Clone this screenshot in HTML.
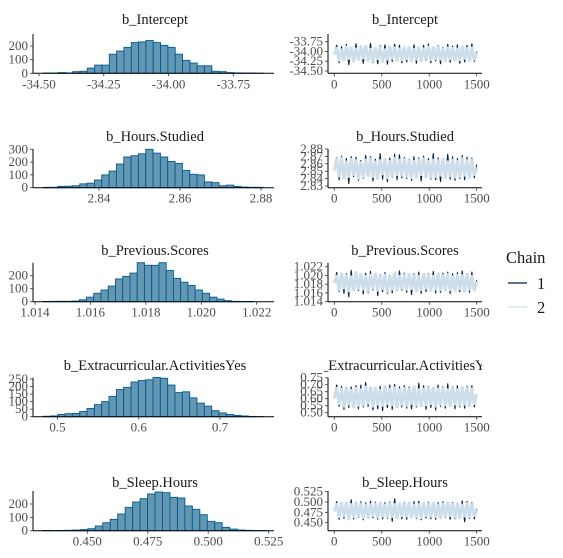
<!DOCTYPE html>
<html><head><meta charset="utf-8"><style>
html,body{margin:0;padding:0;background:#fff}
svg{display:block}
text{font-family:"Liberation Serif",serif}
</style></head><body>
<svg id="c" width="563" height="558" xmlns="http://www.w3.org/2000/svg" font-family="Liberation Serif, serif"></svg>
<script>
const params = ["b_Intercept","b_Hours.Studied","b_Previous.Scores","b_Extracurricular.ActivitiesYes","b_Sleep.Hours"];
const histCounts1 = [2,2,5,3,12,15,38,60,60,140,163,190,225,230,240,225,205,190,140,95,75,55,55,15,12,5,3,2,2,1];
const histCounts2 = [3,3,10,12,15,30,35,60,100,130,185,240,250,265,300,270,240,205,190,135,105,100,45,40,15,20,10,5,3,3];
const histCounts3 = [2,3,3,3,5,15,35,65,90,120,175,195,220,300,280,280,300,240,180,150,125,90,65,35,20,8,3,2,2];
const histCounts4 = [3,5,15,20,22,35,55,80,100,135,180,195,230,240,245,260,255,210,160,165,125,90,70,40,25,15,8,5,2,1];
const histCounts5 = [2,1,2,3,5,8,15,35,60,85,125,175,215,240,275,290,285,250,245,185,160,120,70,60,25,12,5,3,1,1];
const histCounts = [histCounts1,histCounts2,histCounts3,histCounts4,histCounts5];
const binStart = [-34.483,2.8262,1.01429,0.4822,0.4317];
const binEnd = [-33.635,2.8805,1.02187,0.7529,0.5243];
const histXTicks = [[-34.50,-34.25,-34.00,-33.75],[2.84,2.86,2.88],[1.014,1.016,1.018,1.020,1.022],[0.5,0.6,0.7],[0.450,0.475,0.500,0.525]];
const histXLabels = [["-34.50","-34.25","-34.00","-33.75"],["2.84","2.86","2.88"],["1.014","1.016","1.018","1.020","1.022"],["0.5","0.6","0.7"],["0.450","0.475","0.500","0.525"]];
const histYTicks = [[0,100,200],[0,100,200,300],[0,100,200],[0,50,100,150,200,250],[0,100,200]];
const traceYTicks = [[-33.75,-34.00,-34.25,-34.50],[2.88,2.87,2.86,2.85,2.84,2.83],[1.022,1.020,1.018,1.016,1.014],[0.75,0.70,0.65,0.60,0.55,0.50],[0.525,0.500,0.475,0.450]];
const traceYLabels = [["-33.75","-34.00","-34.25","-34.50"],["2.88","2.87","2.86","2.85","2.84","2.83"],["1.022","1.020","1.018","1.016","1.014"],["0.75","0.70","0.65","0.60","0.55","0.50"],["0.525","0.500","0.475","0.450"]];
const traceXTicks = [0,500,1000,1500];
const traceMean = [-34.06,2.854,1.0184,0.615,0.480];
const traceSd = [0.12,0.0085,0.0013,0.045,0.012];
const chain1_1 = [0.4,1.9,-2.0,1.6,-1.3,2.1,-2.4,1.2,-1.8,2.2,-1.1,1.7,-2.1,1.4,-1.6,2.3,-1.9,1.0,-2.2,1.8,-1.4,2.0,-2.3,1.5,-1.7,2.1,-1.2,1.9,-2.0,1.5,-1.8,1.6,-1.5,2.0,-2.1,1.3,-1.7,1.9,-1.4,2.2,-2.0,1.5,-1.6,1.8,-2.2,1.4,-1.5,2.1,-1.9,1.7,-1.3,2.0,-2.1,1.6,-1.8,1.9,-1.5,2.2,-1.7,0.5];
const chain2_1 = [-0.2,1.4,-1.6,1.1,-1.5,1.7,-1.2,1.5,-1.8,1.3,-1.4,1.6,-1.1,1.8,-1.5,1.2,-1.7,1.4,-1.3,1.6,-1.9,1.1,-1.4,1.7,-1.2,1.5,-1.6,1.3,-1.5,1.4,-1.3,1.6,-1.7,1.2,-1.4,1.5,-1.6,1.3,-1.2,1.7,-1.5,1.4,-1.3,1.6,-1.4,1.2,-1.7,1.5,-1.3,1.4,-1.6,1.3,-1.5,1.7,-1.2,1.4,-1.6,1.5,-1.4,0.3];
const chain1_2 = [0.2,1.7,-1.9,2.0,-1.5,1.6,-2.5,1.9,-1.4,1.8,-2.0,1.3,-1.7,2.1,-1.2,1.9,-2.1,1.5,-1.6,2.4,-1.8,1.4,-2.2,1.7,-1.5,2.3,-1.9,2.2,-1.6,1.8,-1.7,1.5,-2.0,1.9,-1.6,1.7,-2.1,2.0,-1.5,1.6,-1.8,2.4,-1.9,1.7,-2.2,1.5,-1.6,2.3,-1.8,1.9,-2.0,1.6,-1.7,2.1,-1.9,1.8,-1.5,1.7,-1.6,0.6];
const chain2_2 = [-0.4,1.6,-1.4,1.8,-1.7,1.2,-1.5,1.6,-1.2,1.4,-1.8,1.1,-1.6,1.5,-1.3,1.7,-1.5,1.2,-1.8,1.4,-1.1,1.6,-1.7,1.3,-1.4,1.8,-1.2,1.5,-1.3,1.6,-1.5,1.4,-1.7,1.3,-1.6,1.5,-1.2,1.7,-1.4,1.3,-1.6,1.5,-1.5,1.4,-1.3,1.6,-1.7,1.2,-1.4,1.5,-1.6,1.3,-1.5,1.7,-1.3,1.4,-1.6,1.5,-1.2,0.1];
const chain1_3 = [0.3,1.8,-1.7,1.5,-2.0,1.6,-2.6,2.2,-1.3,1.9,-1.5,1.4,-2.1,1.7,-1.9,2.0,-1.4,1.6,-2.4,1.5,-1.7,1.8,-2.0,1.3,-1.9,1.6,-1.5,2.1,-1.4,1.7,-1.8,1.5,-2.2,1.6,-1.5,1.9,-2.0,1.4,-1.7,1.6,-1.6,2.0,-1.9,1.5,-1.8,1.7,-1.4,1.9,-2.0,1.6,-1.5,1.8,-1.7,2.1,-1.6,1.5,-1.8,1.9,-1.4,0.4];
const chain2_3 = [-0.1,1.3,-1.5,1.7,-1.2,1.4,-1.7,1.2,-1.5,1.8,-1.3,1.6,-1.4,1.3,-1.7,1.5,-1.2,1.7,-1.6,1.4,-1.3,1.5,-1.8,1.2,-1.4,1.9,-1.6,1.3,-1.2,1.5,-1.4,1.6,-1.3,1.4,-1.7,1.3,-1.5,1.6,-1.2,1.5,-1.6,1.3,-1.4,1.7,-1.5,1.4,-1.3,1.6,-1.5,1.2,-1.6,1.5,-1.3,1.4,-1.7,1.6,-1.4,1.3,-1.5,0.2];
const chain1_4 = [0.1,1.9,-1.6,1.7,-2.1,1.4,-1.8,1.6,-1.5,1.8,-2.0,1.9,-1.7,2.3,-1.6,1.5,-2.2,1.3,-2.0,1.7,-2.3,1.6,-1.8,1.9,-2.1,2.0,-1.5,1.6,-1.7,1.8,-1.9,1.6,-2.0,1.5,-1.7,2.2,-1.6,1.8,-2.1,1.7,-1.8,1.5,-2.2,1.9,-1.6,1.7,-1.9,2.1,-1.5,1.6,-2.0,1.8,-1.7,1.6,-1.9,1.7,-1.6,1.8,-1.7,0.2];
const chain2_4 = [-0.3,1.5,-1.3,1.4,-1.7,1.6,-1.4,1.2,-1.8,1.5,-1.6,1.3,-1.5,1.7,-1.2,1.6,-1.7,1.5,-1.4,1.2,-1.6,1.8,-1.3,1.4,-1.5,1.6,-1.8,1.3,-1.4,1.5,-1.6,1.4,-1.3,1.7,-1.5,1.3,-1.6,1.4,-1.5,1.6,-1.3,1.5,-1.7,1.4,-1.4,1.6,-1.5,1.3,-1.6,1.7,-1.4,1.3,-1.5,1.6,-1.4,1.5,-1.6,1.4,-1.3,0.4];
const chain1_5 = [0.0,1.8,-1.9,1.5,-1.7,1.6,-1.6,2.2,-1.8,1.7,-1.5,1.8,-2.0,1.6,-1.7,1.9,-1.6,1.7,-1.9,1.5,-1.8,1.6,-1.7,1.8,-2.3,2.4,-1.6,1.5,-1.8,1.7,-1.9,1.6,-1.5,1.8,-1.7,1.9,-2.0,1.6,-1.6,1.7,-1.8,1.5,-1.9,1.6,-1.7,1.8,-1.5,1.7,-1.9,1.6,-1.8,1.5,-1.6,2.0,-2.4,1.9,-1.7,1.6,-1.8,0.3];
const chain2_5 = [-0.2,1.4,-1.5,1.6,-1.3,1.7,-2.0,1.4,-1.5,1.6,-1.4,1.5,-1.7,1.3,-1.6,1.4,-1.3,1.5,-1.6,1.7,-1.4,1.3,-1.5,1.6,-1.5,1.4,-1.7,1.5,-1.3,1.6,-1.4,1.5,-1.6,1.3,-1.5,1.4,-1.7,1.6,-1.3,1.5,-1.4,1.6,-1.5,1.3,-1.6,1.5,-1.4,1.7,-1.3,1.4,-1.6,1.5,-1.5,1.3,-1.4,1.6,-1.5,1.4,-1.3,0.1];
const chain1 = [chain1_1,chain1_2,chain1_3,chain1_4,chain1_5];
const chain2 = [chain2_1,chain2_2,chain2_3,chain2_4,chain2_5];

const axisY = [73.3,187.7,301.7,416.7,530.7];
const topY = [34,149,262.7,377.7,491];
const histXCal = [[-34.50,39,-33.75,233.3],[2.84,99,2.88,261],[1.014,35,1.022,256.7],[0.5,57.5,0.7,220],[0.450,87.3,0.525,268.7]];
const histYCal = [[200,46],[300,149.3],[200,275.7],[250,379],[200,504]];
const traceYCal = [[-33.75,41.7,-34.50,71],[2.88,149,2.83,186],[1.022,266.7,1.014,301.7],[0.75,377.7,0.50,412.7],[0.525,491.7,0.450,522.7]];
const titleY = [24,141,255,370,487];

const NS="http://www.w3.org/2000/svg";
const svg=document.getElementById('c');
const FF='"Liberation Serif", serif';
function el(tag,attrs,parent){const e=document.createElementNS(NS,tag);for(const k in attrs)e.setAttribute(k,attrs[k]);if(tag==='text')e.style.fontFamily=FF;(parent||svg).appendChild(e);return e;}
function lin(v0,p0,v1,p1){return v=>p0+(v-v0)*(p1-p0)/(v1-v0);}
const defs=el('defs',{});
const cp=el('clipPath',{id:'tclip'},defs);
el('rect',{x:324,y:0,width:158,height:558},cp);

for(let r=0;r<5;r++){
  const g=el('g',{});
  
  
  const xs=lin(histXCal[r][0],histXCal[r][1],histXCal[r][2],histXCal[r][3]);
  const ys=lin(0,axisY[r],histYCal[r][0],histYCal[r][1]);
  const cnt=histCounts[r];
  const w=(binEnd[r]-binStart[r])/cnt.length;
  cnt.forEach((c,i)=>{
    const x0=xs(binStart[r]+i*w),x1=xs(binStart[r]+(i+1)*w);
    const b=el('rect',{x:x0,y:ys(c),width:x1-x0,height:axisY[r]-ys(c),fill:'#6497b1',stroke:'#005b96','stroke-width':0.9},g);
    
    
  });
  el('line',{x1:33,y1:topY[r],x2:33,y2:axisY[r],stroke:'#000','stroke-width':1},g);
  el('line',{x1:33,y1:axisY[r],x2:274,y2:axisY[r],stroke:'#000','stroke-width':1},g);
  histYTicks[r].forEach(t=>{
    const y=ys(t);
    el('line',{x1:30,y1:y,x2:33,y2:y,stroke:'#333','stroke-width':0.8},g);
    const tx=el('text',{x:28,y:y+4,'text-anchor':'end','font-size':13,fill:'#4d4d4d'},g);tx.textContent=t;
    
    
  });
  histXTicks[r].forEach((t,i)=>{
    const x=xs(t);
    el('line',{x1:x,y1:axisY[r],x2:x,y2:axisY[r]+3,stroke:'#333','stroke-width':0.8},g);
    const tx=el('text',{x:x,y:axisY[r]+15,'text-anchor':'middle','font-size':13,fill:'#4d4d4d'},g);tx.textContent=histXLabels[r][i];
    
    
  });
  const ti=el('text',{x:155,y:titleY[r],'text-anchor':'middle','font-size':14.5,fill:'#1a1a1a'},g);ti.textContent=params[r];
  
  

  const tg=el('g',{});
  
  
  const txs=lin(0,334.3,1500,476.7);
  const tys=lin(traceYCal[r][0],traceYCal[r][1],traceYCal[r][2],traceYCal[r][3]);
  [chain1[r],chain2[r]].forEach((arr,ci)=>{
    const n=arr.length;
    const pts=arr.map((z,i)=>txs(i*1500/(n-1)).toFixed(2)+','+tys(traceMean[r]+traceSd[r]*z).toFixed(2)).join(' ');
    const pl=el('polyline',{points:pts,fill:'none',stroke:ci===0?'#011f4b':'#cddeea','stroke-width':ci===0?1:3,'stroke-linejoin':'bevel'},tg);
    
    
  });
  el('line',{x1:328,y1:topY[r],x2:328,y2:axisY[r],stroke:'#000','stroke-width':1},tg);
  el('line',{x1:328,y1:axisY[r],x2:482,y2:axisY[r],stroke:'#000','stroke-width':1},tg);
  traceYTicks[r].forEach((t,i)=>{
    const y=tys(t);
    el('line',{x1:325,y1:y,x2:328,y2:y,stroke:'#333','stroke-width':0.8},tg);
    const tx=el('text',{x:323,y:y+4,'text-anchor':'end','font-size':13,fill:'#4d4d4d'},tg);tx.textContent=traceYLabels[r][i];
    
    
  });
  traceXTicks.forEach(t=>{
    const x=txs(t);
    el('line',{x1:x,y1:axisY[r],x2:x,y2:axisY[r]+3,stroke:'#333','stroke-width':0.8},tg);
    const tx=el('text',{x:x,y:axisY[r]+15,'text-anchor':'middle','font-size':13,fill:'#4d4d4d'},tg);tx.textContent=t;
    
    
  });
  const tt=el('text',{x:405,y:titleY[r],'text-anchor':'middle','font-size':14.5,fill:'#1a1a1a','clip-path':'url(#tclip)'},tg);tt.textContent=params[r];
  
  
}
const lg=el('g',{});


const lt=el('text',{x:506,y:263,'font-size':16.5,fill:'#1a1a1a'},lg);lt.textContent='Chain';


[['#011f4b','1',283],['#d1e1ec','2',307]].forEach(([c,l,y])=>{
  const ln=el('line',{x1:508,y1:y,x2:527,y2:y,stroke:c,'stroke-width':1.2},lg);
  
  
  const t=el('text',{x:537,y:y+6,'font-size':16.5,fill:'#1a1a1a'},lg);t.textContent=l;
  
  
});
</script>
</body></html>
